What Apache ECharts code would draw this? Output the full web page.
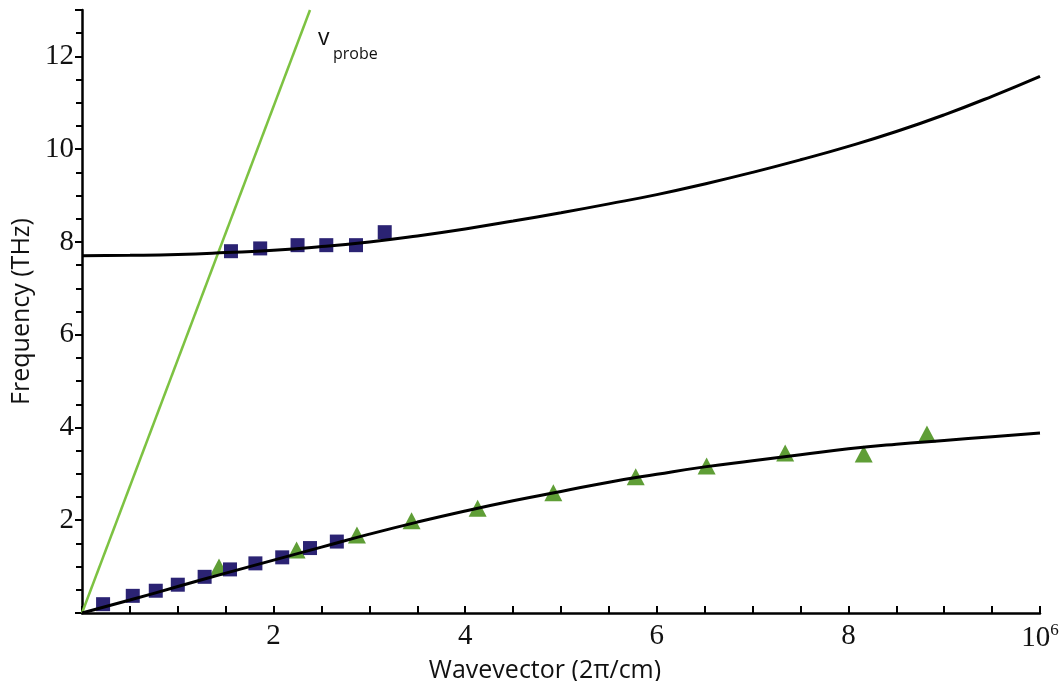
<!DOCTYPE html>
<html>
<head>
<meta charset="utf-8">
<script src="https://cdn.jsdelivr.net/npm/echarts@6/dist/echarts.min.js"></script>
<style>
  html, body { margin: 0; padding: 0; background: #fff; }
  #chart { width: 1060px; height: 681px; }
</style>
</head>
<body>
<div id="chart"></div>
<script>
// wavevector in units of 10^6 (2π/cm), frequency in THz
const curveX = [0, 0.5, 1, 1.5, 2, 2.5, 3, 3.5, 4, 4.5, 5, 5.5, 6, 6.5, 7, 7.5, 8, 8.5, 9, 9.5, 10]
const upperCurve = [7.70, 7.71, 7.73, 7.77, 7.82, 7.90, 8.00, 8.13, 8.28, 8.45, 8.63, 8.82, 9.02, 9.25, 9.50, 9.77, 10.06, 10.38, 10.74, 11.14, 11.57]
const lowerCurve = [0, 0.28, 0.57, 0.86, 1.14, 1.42, 1.70, 1.96, 2.20, 2.42, 2.62, 2.82, 2.99, 3.15, 3.28, 3.41, 3.54, 3.64, 3.72, 3.80, 3.88]

// probe velocity line
const probeX = [0, 2.38]
const probeY = [0, 13]

// measured points (blue squares)
const squareX = [0.22, 0.53, 0.77, 1.0, 1.28, 1.545, 1.81, 2.09, 2.38, 2.66, 1.555, 1.86, 2.25, 2.55, 2.86, 3.16]
const squareY = [0.19, 0.37, 0.48, 0.61, 0.78, 0.94, 1.07, 1.20, 1.40, 1.54, 7.80, 7.86, 7.93, 7.93, 7.93, 8.21]

// measured points (green triangles)
const triX = [1.43, 2.24, 2.87, 3.44, 4.13, 4.92, 5.78, 6.52, 7.34, 8.16, 8.82]
const triY = [0.99, 1.36, 1.68, 1.99, 2.26, 2.59, 2.94, 3.17, 3.45, 3.43, 3.86]

const xTicks = [2, 4, 6, 8, 10]
const yTicks = [2, 4, 6, 8, 10, 12]

const zip = (xs, ys) => xs.map((x, i) => [x, ys[i]])

const chart = echarts.init(document.getElementById('chart'))

const serif = "'Liberation Serif', 'DejaVu Serif', serif"
const sans = "'Open Sans', 'Noto Sans', sans-serif"

const option = {
  backgroundColor: '#ffffff',
  animation: false,
  textStyle: { fontFamily: serif },
  grid: { left: 82, right: 20, top: 10, bottom: 68, outerBoundsMode: 'none', containLabel: false },
  xAxis: {
    type: 'value',
    min: 0,
    max: 10,
    interval: 2,
    name: 'Wavevector (2π/cm)',
    nameLocation: 'middle',
    nameGap: 33,
    nameTextStyle: { fontFamily: sans, fontSize: 25, color: '#111', padding: [0, 32, 0, 0] },
    axisLine: { lineStyle: { color: '#000', width: 2.5 } },
    axisTick: { inside: true, length: 7, lineStyle: { color: '#000', width: 2 } },
    minorTick: { show: true, splitNumber: 4, length: 7, lineStyle: { color: '#000', width: 2 } },
    splitLine: { show: false },
    axisLabel: {
      margin: 9,
      fontFamily: serif,
      fontSize: 29,
      color: '#111',
      formatter: (v) => {
        if (!xTicks.includes(v)) return ''
        if (v === 10) return '{b|10}{s|6}'
        return String(v)
      },
      rich: {
        b: { fontFamily: serif, fontSize: 29, color: '#111' },
        s: { fontFamily: serif, fontSize: 17, color: '#111', padding: [0, 0, 16, 0] }
      }
    }
  },
  yAxis: {
    type: 'value',
    min: 0,
    max: 13,
    interval: 2,
    name: 'Frequency (THz)',
    nameLocation: 'middle',
    nameGap: 47,
    nameRotate: 90,
    nameTextStyle: { fontFamily: sans, fontSize: 25, color: '#111' },
    axisLine: { lineStyle: { color: '#000', width: 2.5 } },
    axisTick: { length: 7, lineStyle: { color: '#000', width: 2 } },
    minorTick: { show: true, splitNumber: 4, length: 6, lineStyle: { color: '#000', width: 2 } },
    splitLine: { show: false },
    axisLabel: {
      margin: 8,
      fontFamily: serif,
      fontSize: 29,
      color: '#111',
      formatter: (v) => (yTicks.includes(v) ? String(v) : '')
    }
  },
  graphic: [
    {
      type: 'text',
      left: 318,
      top: 27,
      style: { text: 'v', fontFamily: sans, fontSize: 23, fill: '#111' }
    },
    {
      type: 'text',
      left: 333,
      top: 46,
      style: { text: 'probe', fontFamily: sans, fontSize: 16, fill: '#111' }
    }
  ],
  series: [
    {
      name: 'triangles',
      type: 'scatter',
      symbol: 'triangle',
      symbolSize: [18, 17],
      itemStyle: { color: '#5f9e36', opacity: 1 },
      data: zip(triX, triY),
      z: 2
    },
    {
      name: 'squares',
      type: 'scatter',
      symbol: 'rect',
      symbolSize: 14,
      itemStyle: { color: '#2b2373', opacity: 1 },
      data: zip(squareX, squareY),
      z: 3
    },
    {
      name: 'probe',
      type: 'line',
      data: zip(probeX, probeY),
      showSymbol: false,
      lineStyle: { color: '#7dc242', width: 2.5 },
      z: 4
    },
    {
      name: 'upper',
      type: 'line',
      data: zip(curveX, upperCurve),
      smooth: true,
      showSymbol: false,
      lineStyle: { color: '#000', width: 3 },
      z: 5
    },
    {
      name: 'lower',
      type: 'line',
      data: zip(curveX, lowerCurve),
      smooth: true,
      showSymbol: false,
      lineStyle: { color: '#000', width: 3 },
      z: 5
    }
  ]
}

chart.setOption(option)
</script>
</body>
</html>
